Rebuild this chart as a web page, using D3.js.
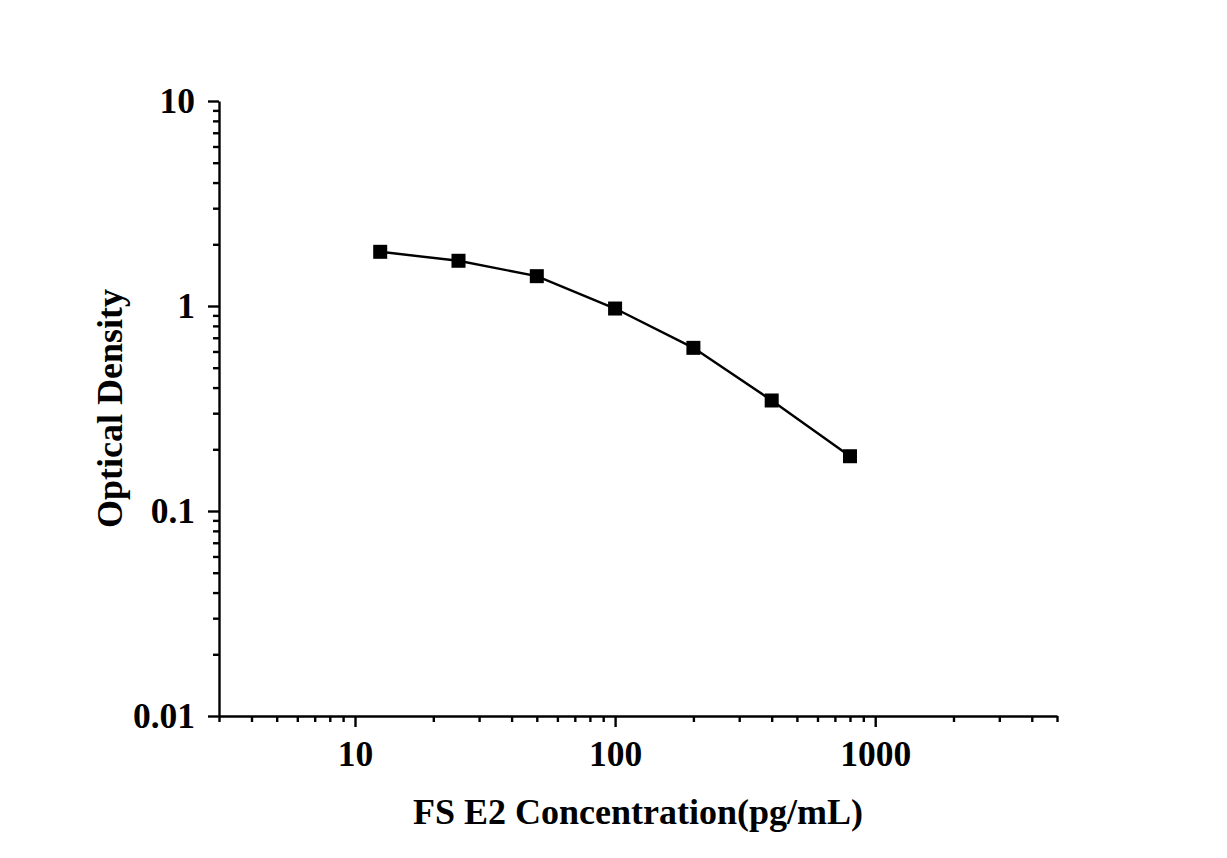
<!DOCTYPE html>
<html>
<head>
<meta charset="utf-8">
<script src="https://cdn.jsdelivr.net/npm/d3@7"></script>
<style>
  html, body { margin: 0; padding: 0; background: #fff; }
  svg { display: block; }
  text { font-family: "Liberation Serif", "Times New Roman", serif; font-weight: bold; fill: #000; }
</style>
</head>
<body>
<script>
const concentrations = [12.5, 25, 50, 100, 200, 400, 800];
const opticalDensity = [1.838, 1.662, 1.398, 0.972, 0.625, 0.346, 0.185];
const xTickLabels = [10, 100, 1000];
const yTickLabels = [0.01, 0.1, 1, 10];
const xTitle = "FS E2 Concentration(pg/mL)";
const yTitle = "Optical Density";

const W = 1227, H = 858;
const m = { left: 219, right: 1057, top: 101, bottom: 716 };

const svg = d3.select("body").append("svg").attr("width", W).attr("height", H);

const x = d3.scaleLog().domain([3, 5000]).range([m.left, m.right]);
const y = d3.scaleLog().domain([0.01, 10]).range([m.bottom, m.top]);

const xMinor = [];
for (let e = 0; e <= 3; e++) for (let k = 2; k <= 9; k++) {
  const v = k * Math.pow(10, e);
  if (v >= 3 && v <= 5000 && !xTickLabels.includes(v)) xMinor.push(v);
}
const yMinor = [];
for (let e = -2; e <= 0; e++) for (let k = 2; k <= 9; k++) {
  yMinor.push(+(k * Math.pow(10, e)).toPrecision(3));
}

const fmt = d => String(d);

const gx = svg.append("g").attr("transform", `translate(0,${m.bottom})`);
gx.call(d3.axisBottom(x).tickValues(xTickLabels).tickFormat(fmt).tickSize(11).tickPadding(13).tickSizeOuter(0));
gx.append("g").call(d3.axisBottom(x).tickValues(xMinor).tickFormat("").tickSize(6).tickSizeOuter(0))
  .select(".domain").remove();
gx.selectAll("text").style("font-size", "35.5px").attr("dy", "0.72em");

const gy = svg.append("g").attr("transform", `translate(${m.left},0)`);
gy.call(d3.axisLeft(y).tickValues(yTickLabels).tickFormat(fmt).tickSize(11).tickPadding(13).tickSizeOuter(0));
gy.append("g").call(d3.axisLeft(y).tickValues(yMinor).tickFormat("").tickSize(6).tickSizeOuter(0))
  .select(".domain").remove();
gy.selectAll("text").style("font-size", "35.5px");

svg.selectAll(".domain, .tick line").attr("stroke", "#000").attr("stroke-width", 2.4);

const data = concentrations.map((c, i) => ({ c, v: opticalDensity[i] }));
svg.append("path").datum(data)
  .attr("fill", "none").attr("stroke", "#000").attr("stroke-width", 2.4)
  .attr("d", d3.line().x(d => x(d.c)).y(d => y(d.v)));

const S = 14;
svg.selectAll("rect.pt").data(data).enter().append("rect")
  .attr("class", "pt")
  .attr("x", d => x(d.c) - S / 2).attr("y", d => y(d.v) - S / 2)
  .attr("width", S).attr("height", S).attr("fill", "#000");

svg.append("text").attr("x", (m.left + m.right) / 2).attr("y", 824)
  .attr("text-anchor", "middle").style("font-size", "36px").text(xTitle);
svg.append("text").attr("transform", `translate(122,${(m.top + m.bottom) / 2}) rotate(-90)`)
  .attr("text-anchor", "middle").style("font-size", "36px").text(yTitle);
</script>
</body>
</html>
